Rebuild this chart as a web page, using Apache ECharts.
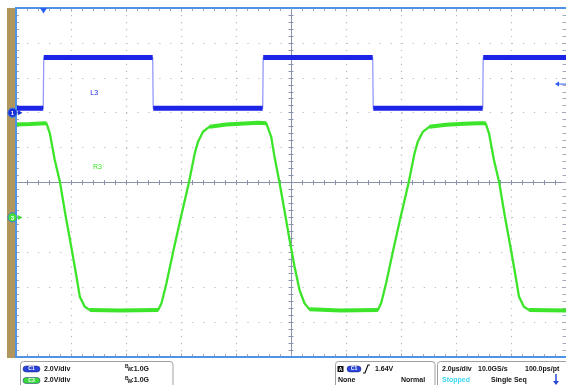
<!DOCTYPE html>
<html><head><meta charset="utf-8">
<script src="https://cdn.jsdelivr.net/npm/echarts@6/dist/echarts.min.js"></script>
<style>html,body{margin:0;padding:0;background:#fff;overflow:hidden}#c{width:566px;height:385px}</style>
</head><body><div id="c"></div>
<script>
// ---- horizontal: µs relative to screen centre, 2.0 µs/div
const timeMin = -10, timeMax = 10, timeStep = 2;
// ---- vertical: screen divisions
const divMin = -5, divMax = 5, divStep = 1;

// Channel 1 (blue) : time (µs) / volts
const c1Time = [-10, -9.01, -8.99, -5.03, -5.01, -1.03, -1.01, 2.97, 2.99, 6.97, 6.99, 10];
const c1Volt = [0.25, 0.25, 3.17, 3.17, 0.25, 0.25, 3.17, 3.17, 0.25, 0.25, 3.17, 3.17];

// Channel 3 (green) : time (µs) / volts
const c3Time = [-10, -9.49, -8.89, -8.77, -8.59, -8.40, -8.19, -7.97, -7.80, -7.68, -7.50, -7.31,
  -6.22, -4.83, -4.71, -4.53, -4.27, -4.00, -3.71, -3.50, -3.38, -3.20, -2.96, -2.35, -1.69, -1.20, -0.90,
  -0.72, -0.60, -0.42, -0.24, -0.05, 0.13, 0.31, 0.49, 0.67, 1.80,
  3.16, 3.28, 3.46, 3.72, 3.99, 4.28, 4.49, 4.61, 4.79, 5.03, 5.64, 6.30, 6.80, 7.08,
  7.20, 7.38, 7.57, 7.78, 8.00, 8.17, 8.29, 8.47, 8.66, 10];
const c3Volt = [5.32, 5.35, 5.39, 4.82, 3.29, 2.01, 0.04, -1.87, -3.40, -4.54, -5.12, -5.31,
  -5.34, -5.31, -4.92, -3.78, -1.87, 0.04, 2.01, 3.67, 4.34, 4.91, 5.20, 5.32, 5.38, 5.42, 5.40,
  4.62, 3.48, 2.01, 0.42, -1.30, -2.83, -4.16, -4.92, -5.27, -5.33,
  -5.31, -4.90, -3.76, -1.86, 0.05, 2.00, 3.66, 4.33, 4.90, 5.19, 5.31, 5.37, 5.40, 5.39,
  4.82, 3.29, 2.01, 0.04, -1.87, -3.40, -4.54, -5.12, -5.31, -5.33];

const c1Scale = 2.0, c3Scale = 2.0;     // V/div
const c1Offset = 2, c3Offset = -1;      // div
const triggerTime = -9.0, triggerLevel = 1.64;

const BLUE = '#1c24e6', BLUE_PALE = 'rgba(60,70,240,0.55)', GREEN = '#3ce42a';
const FRAME = '#4f93e4', AXIS = '#8a92ad', EDGE_TICK = '#a4a9b8', DOT = '#b8b8b8';
const FONT = '"Liberation Sans", Arial, sans-serif';

const toDiv1 = v => v / c1Scale + c1Offset;
const toDiv3 = v => v / c3Scale + c3Offset;
const c1Data = c1Time.map((t, i) => [t, toDiv1(c1Volt[i])]);
const c3Data = c3Time.map((t, i) => [t, toDiv3(c3Volt[i])]);
function flats(ts, vs, conv) {
  const out = [];
  for (let i = 0; i < ts.length - 1; i++) {
    const s = Math.abs((vs[i + 1] - vs[i]) / (ts[i + 1] - ts[i]));
    if (s < 0.9) out.push([ts[i], conv(vs[i])], [ts[i + 1], conv(vs[i + 1])]);
    else out.push([ts[i], NaN]);
  }
  return out;
}

function xAx(extra) {
  return Object.assign({
    type: 'value', min: timeMin, max: timeMax, interval: timeStep,
    axisLabel: { show: false }, splitLine: { show: false }
  }, extra);
}
function yAx(extra) {
  return Object.assign({
    type: 'value', min: divMin, max: divMax, interval: divStep,
    axisLabel: { show: false }, splitLine: { show: false }
  }, extra);
}
const tick = (inside, len, color) => ({ show: true, inside: inside, length: len, lineStyle: { color: color, width: 1 } });
const minor = (len, color) => ({ show: true, splitNumber: 5, length: len, lineStyle: { color: color, width: 1 } });

const chart = echarts.init(document.getElementById('c'));
const option = {
  animation: false,
  backgroundColor: '#ffffff',
  grid: { left: 16, top: 8, width: 551, height: 349, show: false },
  xAxis: [
    xAx({ position: 'bottom', axisLine: { show: false, onZero: false }, axisTick: tick(true, 3.5, EDGE_TICK), minorTick: minor(3, EDGE_TICK),
      splitLine: { show: true, lineStyle: { color: DOT, width: 1.2, type: [1.2, 5.78] } } }),
    xAx({ position: 'top', axisLine: { show: false, onZero: false }, axisTick: tick(true, 3.5, EDGE_TICK), minorTick: minor(3, EDGE_TICK) }),
    xAx({ position: 'bottom', axisLine: { show: true, onZero: true, onZeroAxisIndex: 0, lineStyle: { color: AXIS, width: 1 } }, axisTick: tick(true, 2.5, AXIS), minorTick: minor(2.5, AXIS) }),
    xAx({ position: 'bottom', axisLine: { show: true, onZero: true, onZeroAxisIndex: 0, lineStyle: { color: AXIS, width: 1 } }, axisTick: tick(false, 2.5, AXIS), minorTick: minor(2.5, AXIS) })
  ],
  yAxis: [
    yAx({ position: 'left', axisLine: { show: false, onZero: false }, axisTick: tick(true, 3.5, EDGE_TICK), minorTick: minor(3, EDGE_TICK),
      splitLine: { show: true, lineStyle: { color: DOT, width: 1.2, type: [1.2, 9.82] } } }),
    yAx({ position: 'right', axisLine: { show: false, onZero: false }, axisTick: tick(true, 4, EDGE_TICK), minorTick: minor(3.5, EDGE_TICK) }),
    yAx({ position: 'left', axisLine: { show: true, onZero: true, onZeroAxisIndex: 0, lineStyle: { color: AXIS, width: 1 } }, axisTick: tick(true, 2.5, AXIS), minorTick: minor(2.5, AXIS) }),
    yAx({ position: 'left', axisLine: { show: true, onZero: true, onZeroAxisIndex: 0, lineStyle: { color: AXIS, width: 1 } }, axisTick: tick(false, 2.5, AXIS), minorTick: minor(2.5, AXIS) })
  ],
  series: [
    { type: 'line', data: c3Data, showSymbol: false, symbol: 'none', lineStyle: { color: GREEN, width: 2.3 }, z: 3 },
    { type: 'line', data: flats(c3Time, c3Volt, toDiv3), showSymbol: false, symbol: 'none', lineStyle: { color: GREEN, width: 4 }, z: 3 },
    { type: 'line', data: c1Data, showSymbol: false, symbol: 'none', lineStyle: { color: BLUE_PALE, width: 1.3 }, z: 4 },
    { type: 'line', data: flats(c1Time, c1Volt, toDiv1), showSymbol: false, symbol: 'none', lineStyle: { color: BLUE, width: 5 }, z: 4 }
  ]
};
chart.setOption(option);

const px = (t, d) => chart.convertToPixel({ xAxisIndex: 0, yAxisIndex: 0 }, [t, d]);
const tl = px(timeMin, divMax), br = px(timeMax, divMin);
const g1 = px(timeMin, c1Offset), g3 = px(timeMin, c3Offset);
const trg = px(triggerTime, divMax);
const lvl = px(timeMax, toDiv1(triggerLevel));
const lab1 = px(-7.3, toDiv1(1.1)), lab3 = px(-7.2, toDiv3(2.9));

function txt(text, x, y, size, color, weight, align) {
  return { type: 'text', z: 100, style: { text: text, x: x, y: y, fill: color, font: (weight || 'bold') + ' ' + size + 'px ' + FONT, textAlign: align || 'left', textVerticalAlign: 'middle' } };
}
function pill(x, y, w, color, label) {
  return [
    { type: 'rect', z: 100, shape: { x: x, y: y - 3, width: w, height: 6, r: 3 }, style: { fill: color, stroke: '#1a2a80', lineWidth: 0.5 } },
    txt(label, x + w / 2, y, 5, '#ffffff', 'bold', 'center')
  ];
}
function chMarker(y, fill, label) {
  return [
    { type: 'circle', z: 100, shape: { cx: 12.5, cy: y, r: 4.6 }, style: { fill: fill, stroke: '#3a7be0', lineWidth: 1 } },
    txt(label, 12.5, y + 0.5, 6, '#ffffff', 'bold', 'center'),
    { type: 'polygon', z: 100, shape: { points: [[18, y - 2.5], [22.5, y], [18, y + 2.5]] }, style: { fill: fill } }
  ];
}
const elems = [
  { type: 'rect', z: 1, shape: { x: 7, y: 8, width: 8, height: 350 }, style: { fill: '#b0955c' } },
  { type: 'polyline', z: 50, shape: { points: [[566, tl[1]], [tl[0], tl[1]], [tl[0], br[1]], [566, br[1]]] }, style: { stroke: FRAME, lineWidth: 2, fill: null } },
  ...chMarker(g1[1], '#1c30d8', '1'),
  ...chMarker(g3[1], '#45e03a', '3'),
  { type: 'polygon', z: 100, shape: { points: [[trg[0] - 3.5, 8], [trg[0] + 3.5, 8], [trg[0], 13.5]] }, style: { fill: '#2a5df0' } },
  { type: 'line', z: 100, shape: { x1: lvl[0] - 8, y1: lvl[1], x2: lvl[0], y2: lvl[1] }, style: { stroke: '#2a5df0', lineWidth: 1 } },
  { type: 'polygon', z: 100, shape: { points: [[lvl[0] - 11, lvl[1]], [lvl[0] - 7, lvl[1] - 2.5], [lvl[0] - 7, lvl[1] + 2.5]] }, style: { fill: '#2a5df0' } },
  txt('L3', lab1[0], lab1[1], 7, BLUE, 'normal'),
  txt('R3', lab3[0], lab3[1], 7, GREEN, 'normal'),
  // bottom info boxes
  { type: 'rect', z: 90, shape: { x: 20.5, y: 361.5, width: 152.5, height: 30, r: 3 }, style: { fill: '#fff', stroke: '#a0a0a0', lineWidth: 1 } },
  { type: 'rect', z: 90, shape: { x: 335.5, y: 361.5, width: 99.5, height: 30, r: 3 }, style: { fill: '#fff', stroke: '#a0a0a0', lineWidth: 1 } },
  { type: 'rect', z: 90, shape: { x: 437.5, y: 361.5, width: 140, height: 30, r: 3 }, style: { fill: '#fff', stroke: '#a0a0a0', lineWidth: 1 } },
  ...pill(23, 369, 17, '#2a42d8', 'C1'),
  ...pill(23, 380.5, 17, '#3ad83a', 'C3'),
  txt('2.0V/div', 44, 369, 7, '#111'),
  txt('2.0V/div', 44, 380.5, 7, '#111'),
  txt('B', 125, 367, 5, '#111'), txt('W', 127.5, 370, 5, '#111'), txt(':1.0G', 131.5, 369, 7, '#111'),
  txt('B', 125, 378.5, 5, '#111'), txt('W', 127.5, 381.5, 5, '#111'), txt(':1.0G', 131.5, 380.5, 7, '#111'),
  { type: 'rect', z: 100, shape: { x: 337.5, y: 366, width: 6, height: 6 }, style: { fill: '#111' } },
  txt('A', 340.5, 369.3, 5, '#fff', 'bold', 'center'),
  ...pill(347, 369, 14, '#2a42d8', 'C1'),
  { type: 'polyline', z: 100, shape: { points: [[363, 373], [365, 373], [368, 365], [370, 365]] }, style: { stroke: '#111', lineWidth: 1.2, fill: null } },
  txt('1.64V', 375, 369, 7, '#111'),
  txt('None', 338, 380.5, 7, '#111'),
  txt('Normal', 401, 380.5, 7, '#111'),
  txt('2.0\u00b5s/div', 442, 369, 7, '#111'),
  txt('10.0GS/s', 478, 369, 7, '#111'),
  txt('100.0ps/pt', 525, 369, 7, '#111'),
  txt('Stopped', 442, 380.5, 7, '#3fd6f2'),
  txt('Single Seq', 491, 380.5, 7, '#111'),
  { type: 'line', z: 100, shape: { x1: 556, y1: 374, x2: 556, y2: 384 }, style: { stroke: '#2a4ad8', lineWidth: 1.5 } },
  { type: 'polygon', z: 100, shape: { points: [[553, 381], [559, 381], [556, 385]] }, style: { fill: '#2a4ad8' } }
];
chart.setOption({ graphic: { elements: elems } });
</script>
</body></html>
